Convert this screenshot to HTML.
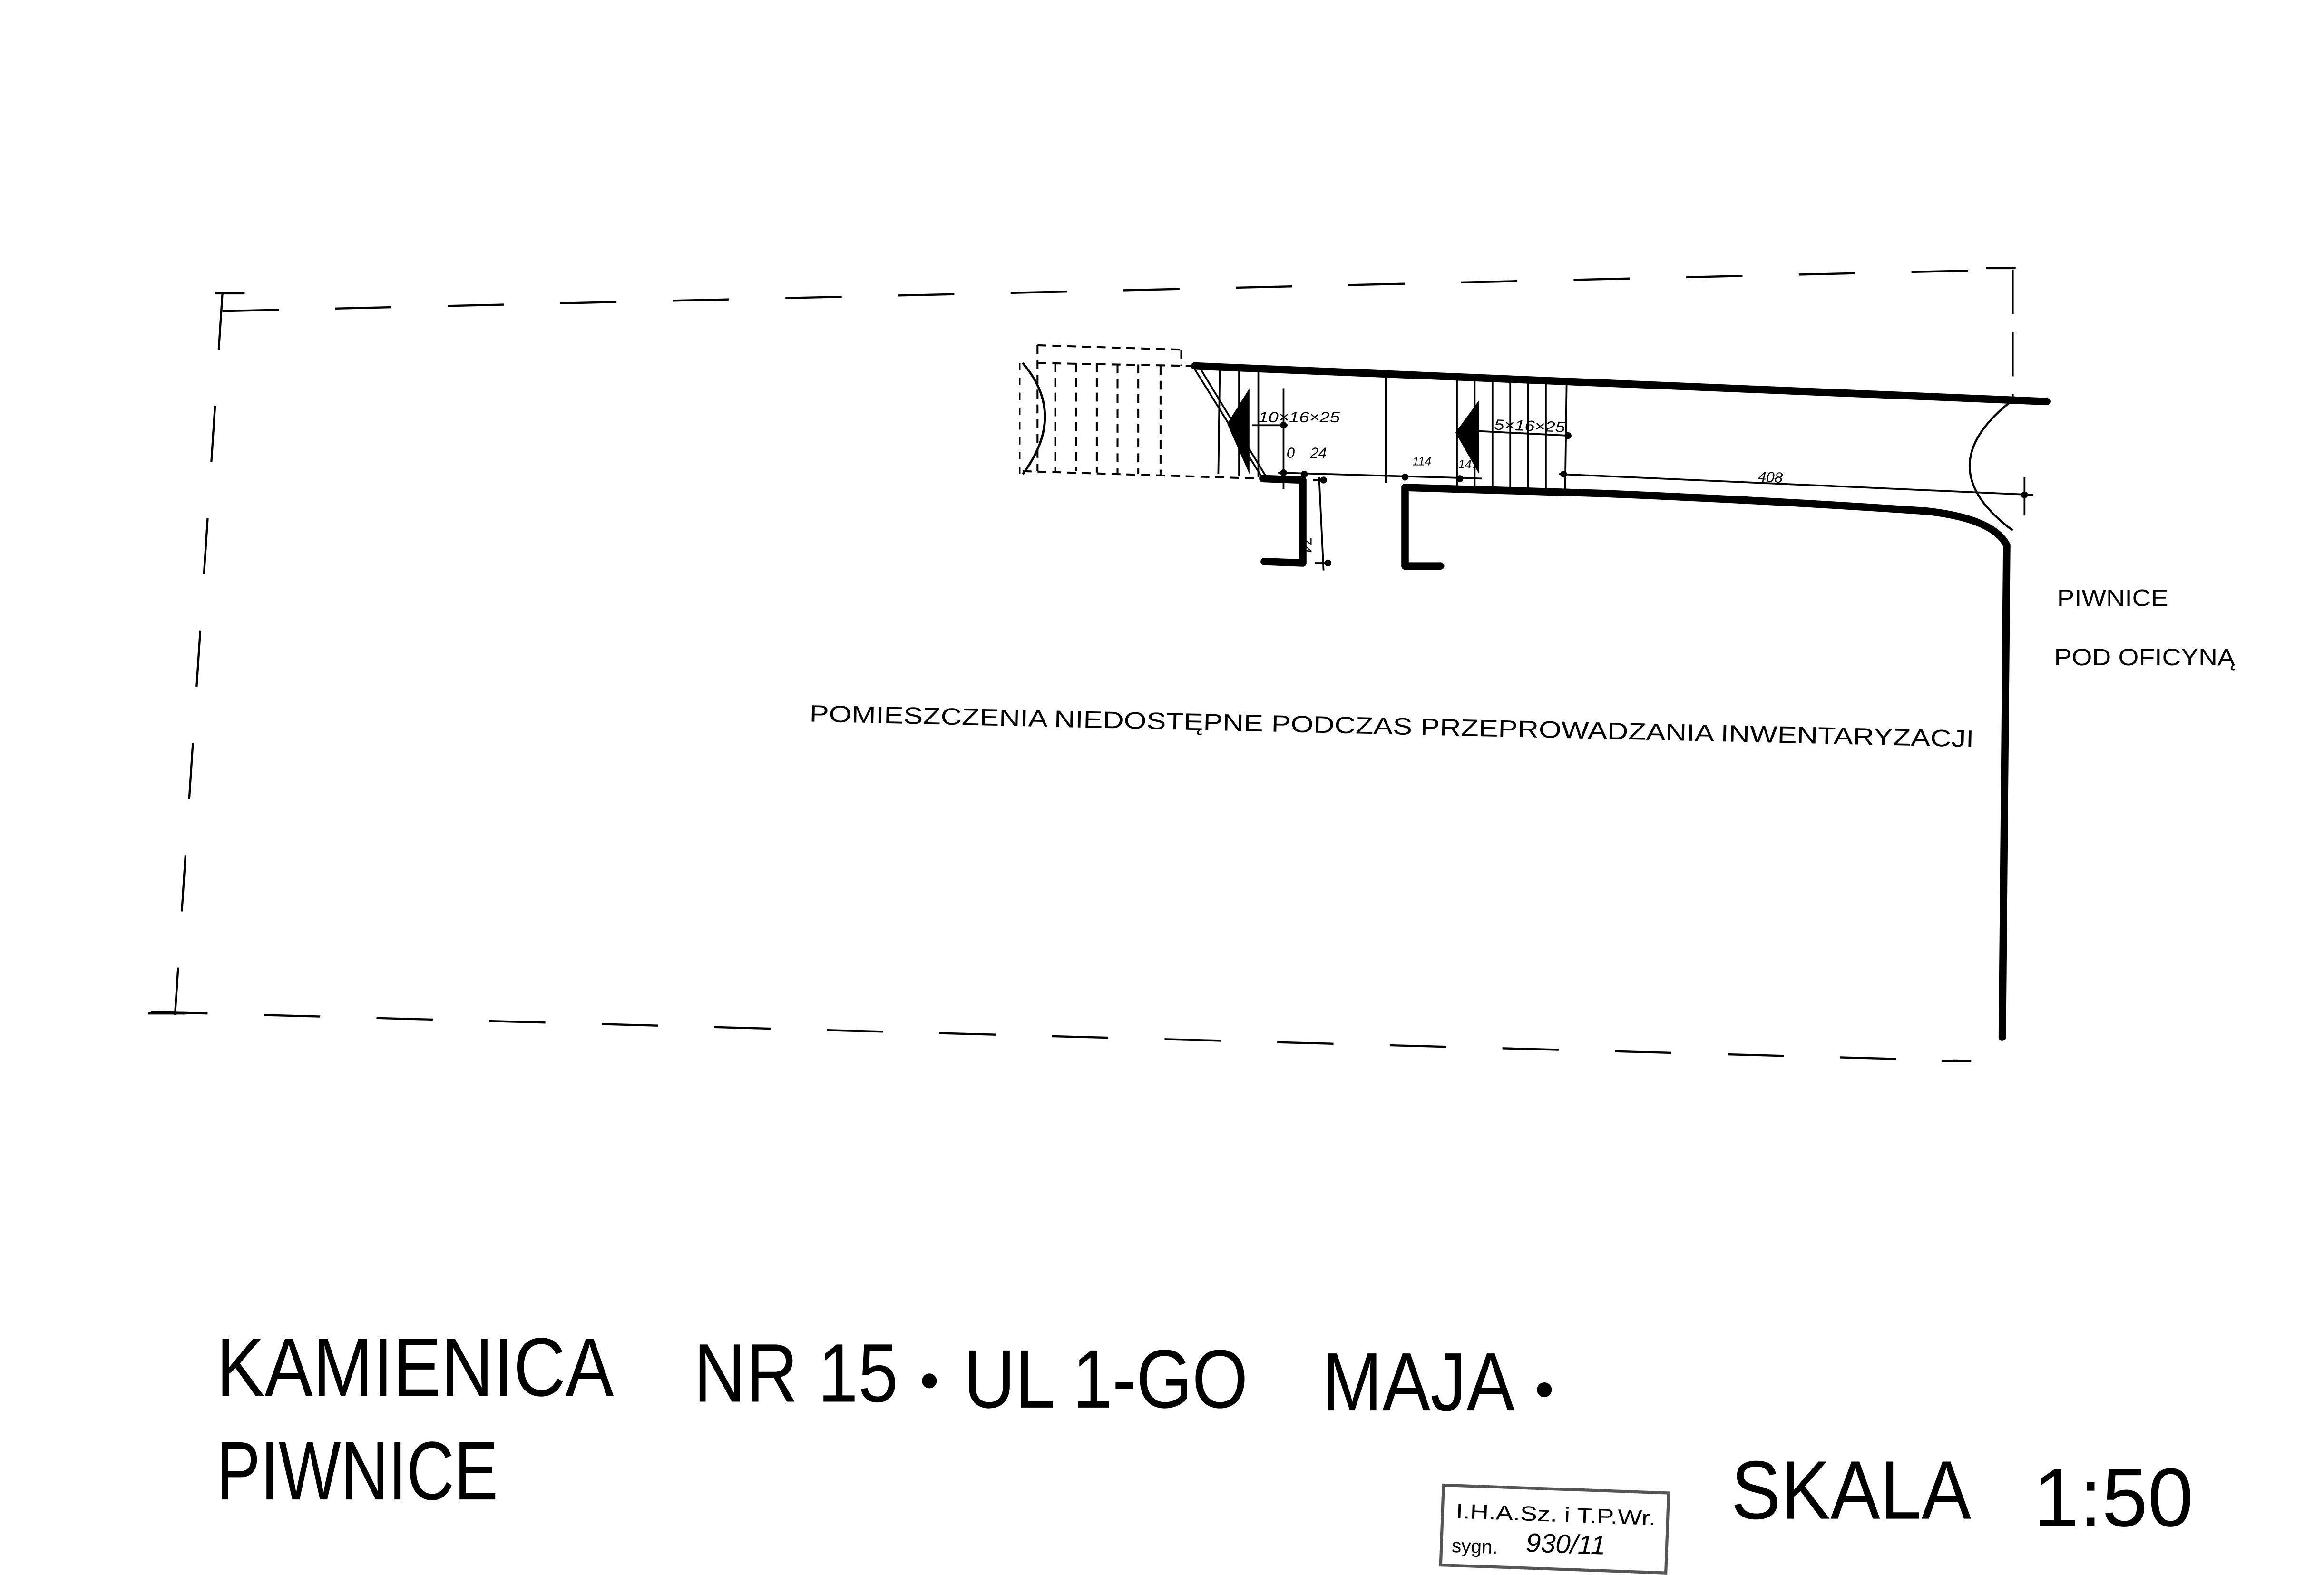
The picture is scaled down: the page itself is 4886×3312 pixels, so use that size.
<!DOCTYPE html>
<html><head><meta charset="utf-8">
<style>
html,body{margin:0;padding:0;background:#fff;}
svg{display:block;}
text{font-family:"Liberation Sans",sans-serif;fill:#000;}
</style></head>
<body>
<svg width="4886" height="3312" viewBox="0 0 1568 1063" xmlns="http://www.w3.org/2000/svg">
<rect width="1568" height="1063" fill="#fff"/>
<!-- dashed boundary -->
<g stroke="#000" stroke-width="1.4" fill="none" stroke-dasharray="38,38">
<line x1="150" y1="210" x2="1358" y2="182"/>
<line x1="150" y1="198" x2="118" y2="685"/>
<line x1="102" y1="683" x2="1330" y2="716"/>
<line x1="1358" y1="182" x2="1358" y2="270" stroke-dasharray="30,12"/>
</g>
<g stroke="#000" stroke-width="1.4" fill="none">
<line x1="145" y1="198" x2="165" y2="198"/>
<line x1="1340" y1="181" x2="1360" y2="181"/>
<line x1="1310" y1="716" x2="1330" y2="716"/>
<line x1="100" y1="684" x2="125" y2="684"/>
</g>
<!-- dashed stairs left -->
<g stroke="#000" stroke-width="1.3" fill="none" stroke-dasharray="6,4">
<line x1="700" y1="233" x2="797" y2="236"/>
<line x1="700" y1="245" x2="805" y2="247"/>
<line x1="690" y1="318" x2="850" y2="323"/>
<line x1="700" y1="233" x2="700" y2="318"/>
<line x1="797" y1="236" x2="797" y2="247"/>
<line x1="712" y1="245" x2="712" y2="318"/>
<line x1="726" y1="245" x2="726" y2="318"/>
<line x1="740" y1="245" x2="740" y2="319"/>
<line x1="754" y1="246" x2="754" y2="320"/>
<line x1="768" y1="246" x2="768" y2="320"/>
<line x1="783" y1="247" x2="783" y2="321"/>
</g>
<path d="M690 245 Q720 280 690 320" stroke="#000" stroke-width="1.5" fill="none"/>
<line x1="688" y1="245" x2="688" y2="320" stroke="#000" stroke-width="1" stroke-dasharray="5,5"/>
<!-- thick walls -->
<g stroke="#000" stroke-width="5" fill="none" stroke-linecap="round" stroke-linejoin="round">
<line x1="806" y1="247" x2="1381" y2="271"/>
<path d="M852 323 L879 324 L879 380 L853 379"/>
<path d="M972 382 L948 382 L948 329 L1080 333 Q1200 338 1300 345 Q1345 350 1354 368 L1351 700"/>
</g>
<!-- stair flight 1 -->
<g stroke="#000" stroke-width="1.2" fill="none">
<line x1="806" y1="249" x2="852" y2="323"/>
<line x1="810" y1="249" x2="855" y2="323"/>
<line x1="823" y1="249" x2="822" y2="320"/>
<line x1="836" y1="250" x2="836" y2="321"/>
<line x1="849" y1="250" x2="849" y2="322"/>
<line x1="935" y1="254" x2="935" y2="326"/>
<line x1="983" y1="256" x2="983" y2="329"/>
<line x1="995" y1="257" x2="995" y2="330"/>
<line x1="1007" y1="257" x2="1007" y2="330"/>
<line x1="1019" y1="258" x2="1019" y2="331"/>
<line x1="1031" y1="258" x2="1031" y2="331"/>
<line x1="1043" y1="259" x2="1043" y2="332"/>
<line x1="1057" y1="260" x2="1056" y2="333"/>
</g>
<polygon points="828,286 843,262 843,320" fill="#000"/>
<polygon points="982,292 998,270 998,320" fill="#000"/>
<!-- dimension lines -->
<g stroke="#000" stroke-width="1.2" fill="none">
<line x1="845" y1="287" x2="869" y2="287"/>
<line x1="866" y1="262" x2="866" y2="330"/>
<line x1="862" y1="319" x2="1000" y2="323"/>
<line x1="998" y1="291" x2="1058" y2="294"/>
<line x1="1052" y1="320" x2="1372" y2="334"/>
<line x1="1366" y1="322" x2="1366" y2="348"/>
<line x1="886" y1="324" x2="893" y2="324"/>
<line x1="890" y1="322" x2="893" y2="385"/>
<line x1="887" y1="380" x2="898" y2="380"/>
</g>
<g fill="#000">
<circle cx="866" cy="287" r="2.3"/><circle cx="866" cy="319" r="2.3"/>
<circle cx="880" cy="320" r="2.3"/><circle cx="948" cy="322" r="2.3"/>
<circle cx="985" cy="323" r="2.3"/><circle cx="1058" cy="294" r="2.3"/>
<circle cx="1055" cy="320" r="2.3"/><circle cx="1366" cy="334" r="2.3"/>
<circle cx="893" cy="324" r="2.3"/><circle cx="896" cy="380" r="2.3"/>
</g>
<g font-size="10" font-style="italic">
<text x="849" y="285" textLength="55" lengthAdjust="spacingAndGlyphs">10×16×25</text>
<text x="1008" y="290" textLength="48" lengthAdjust="spacingAndGlyphs" transform="rotate(2 1008 290)">5×16×25</text>
<text x="868" y="309">0</text>
<text x="884" y="309">24</text>
<text x="953" y="314" font-size="8">114</text>
<text x="984" y="316" font-size="8">147</text>
<text x="1186" y="325" transform="rotate(3 1186 325)">408</text>
<text x="878" y="362" transform="rotate(90 878 362)">74</text>
</g>
<!-- door arc right -->
<path d="M1358 270 Q1300 315 1358 358" stroke="#000" stroke-width="1.4" fill="none"/>
<!-- labels -->
<g font-size="16">
<text x="1388" y="409" textLength="75" lengthAdjust="spacingAndGlyphs">PIWNICE</text>
<text x="1386" y="449" textLength="122" lengthAdjust="spacingAndGlyphs">POD OFICYNĄ</text>
<text x="546" y="487" textLength="786" lengthAdjust="spacingAndGlyphs" transform="rotate(1.25 546 487)">POMIESZCZENIA NIEDOSTĘPNE PODCZAS PRZEPROWADZANIA INWENTARYZACJI</text>
</g>
<g font-size="56">
<text x="146" y="942" textLength="268" lengthAdjust="spacingAndGlyphs">KAMIENICA</text>
<text x="468" y="946" textLength="138" lengthAdjust="spacingAndGlyphs">NR 15</text>
<text x="650" y="950" textLength="192" lengthAdjust="spacingAndGlyphs">UL 1-GO</text>
<text x="892" y="952" textLength="130" lengthAdjust="spacingAndGlyphs">MAJA</text>
<text x="146" y="1012" textLength="190" lengthAdjust="spacingAndGlyphs">PIWNICE</text>
<text x="1168" y="1025" textLength="162" lengthAdjust="spacingAndGlyphs">SKALA</text>
<text x="1372" y="1030" textLength="108" lengthAdjust="spacingAndGlyphs">1:50</text>
</g>
<circle cx="627" cy="932" r="5" fill="#000"/>
<circle cx="1042" cy="938" r="5" fill="#000"/>
<!-- stamp -->
<g transform="rotate(2 1050 1030)">
<rect x="973" y="1005" width="152" height="54" fill="none" stroke="#555" stroke-width="2"/>
<text x="982" y="1027" font-family="Liberation Serif" font-size="14" fill="#444" textLength="135" lengthAdjust="spacingAndGlyphs">I.H.A.Sz. i T.P.Wr.</text>
<text x="980" y="1050" font-family="Liberation Serif" font-size="13" fill="#444">sygn.</text>
<text x="1030" y="1048" font-size="18" font-style="italic">930/11</text>
</g>
</svg>
</body></html>
